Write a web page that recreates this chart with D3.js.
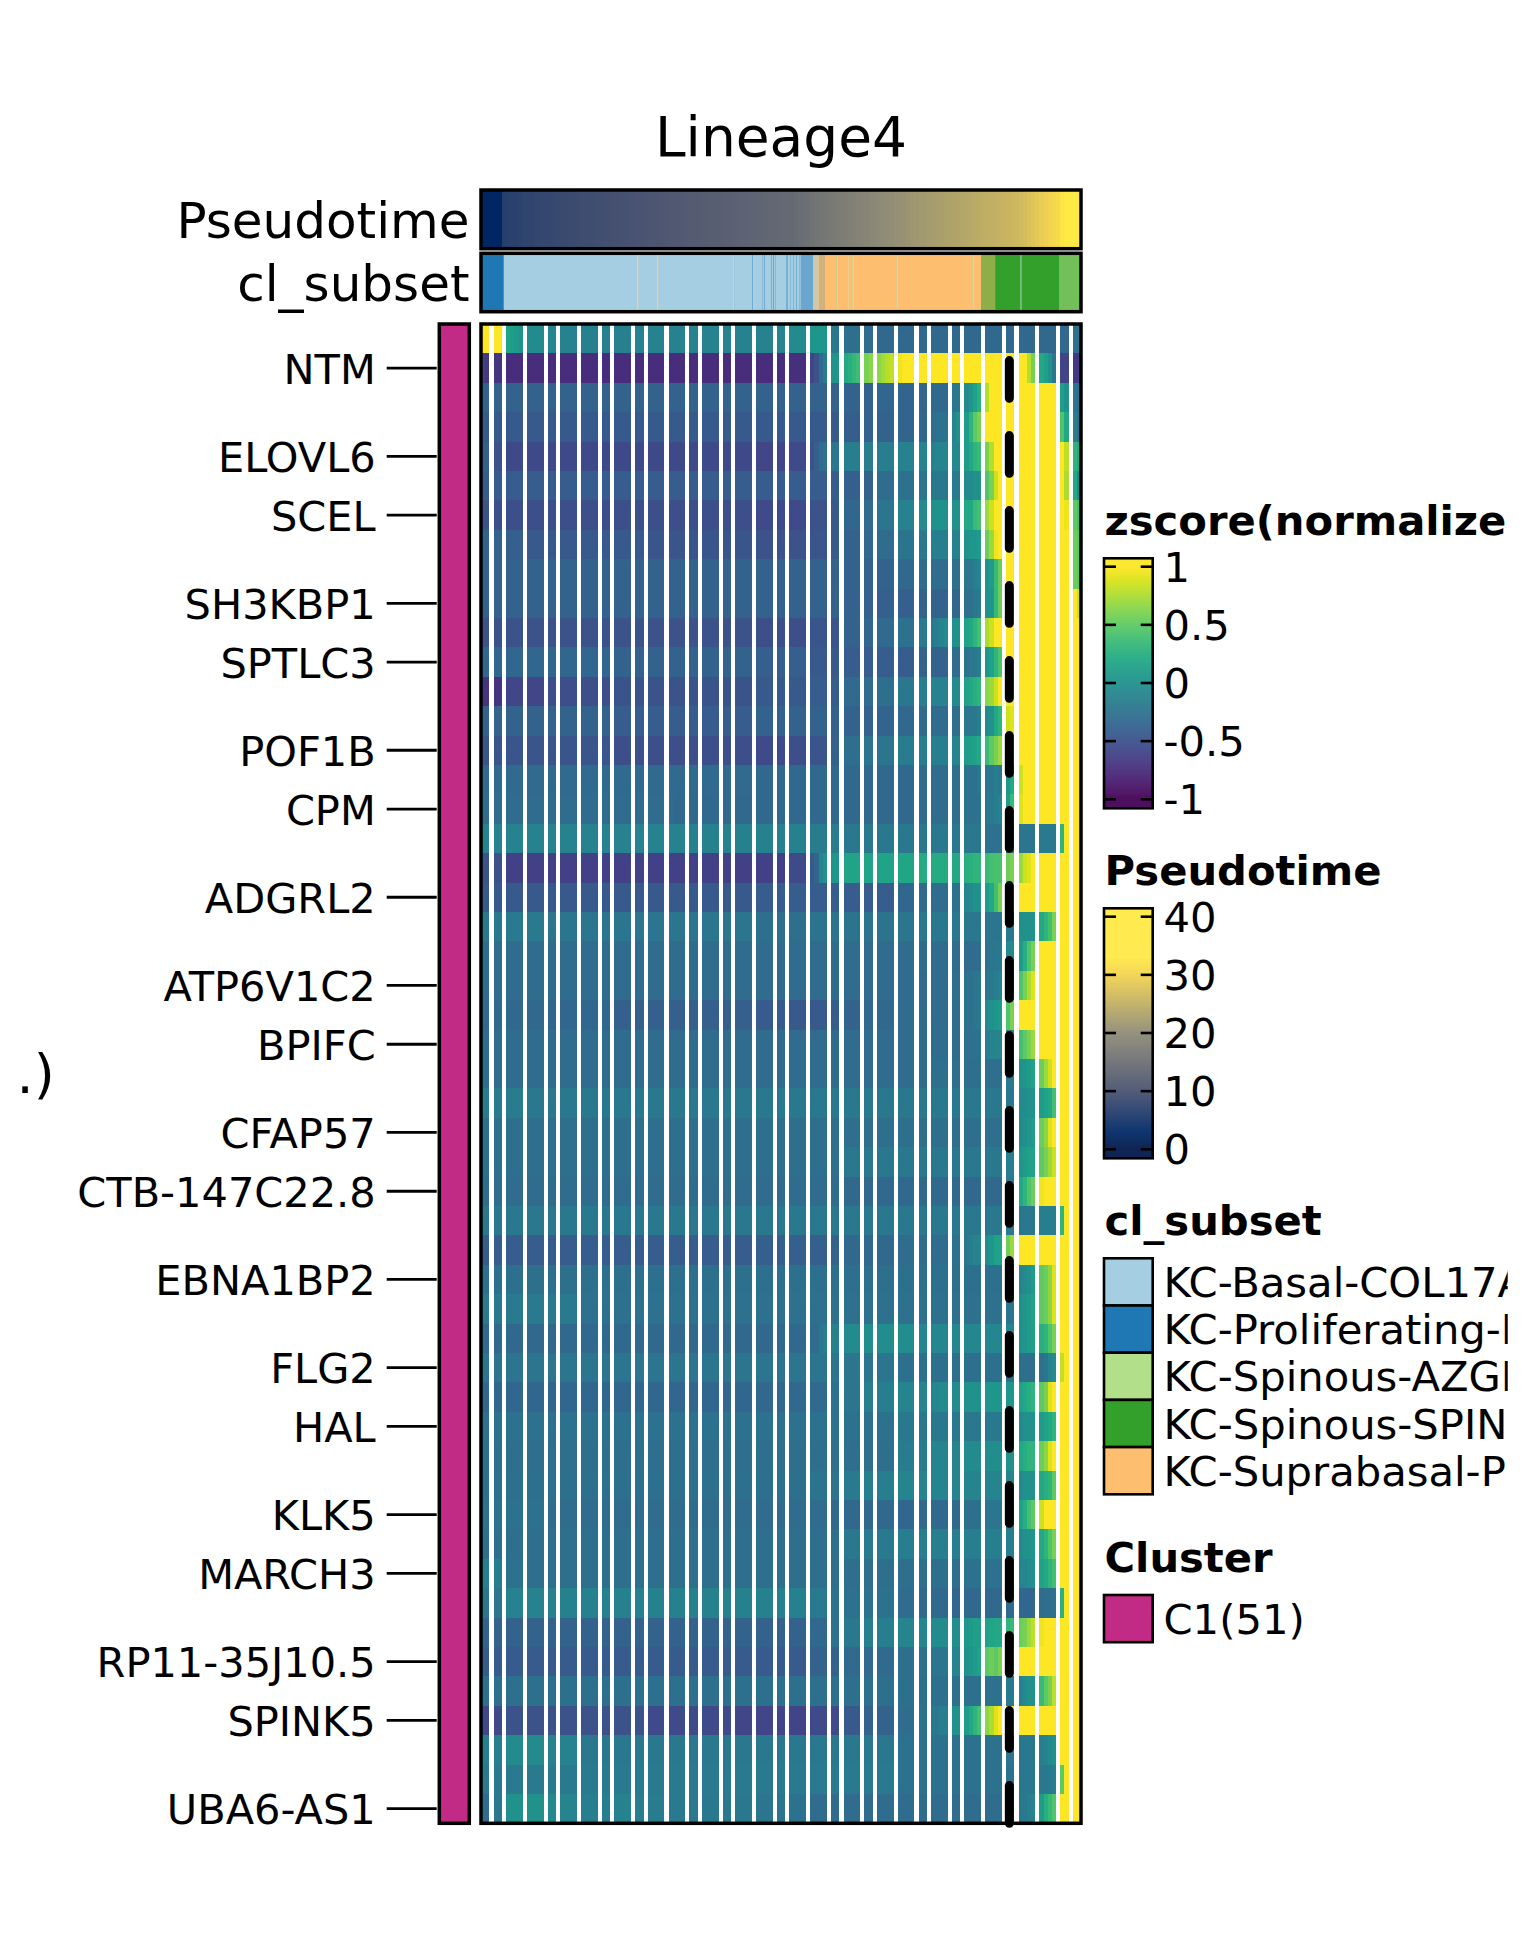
<!DOCTYPE html>
<html>
<head>
<meta charset="utf-8">
<script src="https://d3js.org/d3.v7.min.js"></script>
<style>
  html, body { margin: 0; padding: 0; background: #fff; }
  text { font-family: "DejaVu Sans", sans-serif; fill: #000; }
</style>
</head>
<body>
<div id="chart"></div>
<script>
// Gene names shown on the left and the row each one belongs to
var geneNames = ["NTM", "ELOVL6", "SCEL", "SH3KBP1", "SPTLC3", "POF1B", "CPM", "ADGRL2", "ATP6V1C2", "BPIFC",
  "CFAP57", "CTB-147C22.8", "EBNA1BP2", "FLG2", "HAL", "KLK5", "MARCH3", "RP11-35J10.5", "SPINK5", "UBA6-AS1"];
var geneRows = [1, 4, 6, 9, 11, 14, 16, 19, 22, 24, 27, 29, 32, 35, 37, 40, 42, 45, 47, 50];

// Pseudotime bins that are empty (drawn white in every row)
var gapColumns = [2, 5, 10, 15, 18, 23, 28, 31, 36, 39, 44, 49, 52, 57, 60, 65, 70, 73, 78, 83, 86, 91, 94, 99,
  104, 107, 112, 115, 120, 125, 128, 133, 138, 141];
var columnCount = 144;
var markerColumn = 126.8;

// One list per row: last column of a run, z-score of that run, ...
var zscoreRuns = [
  [1,1,4,1,6,.18,7,.12,8,.08,9,.03,14,-.04,17,-.08,22,-.12,35,-.14,64,-.12,69,-.12,72,-.1,77,-.05,82,.05,85,-.2,90,-.27,93,-.3,140,-.33,143,-.25],
  [0,-.62,1,-.68,4,-.7,72,-.75,77,-.72,79,-.6,80,-.5,81,-.32,82,-.18,85,.03,87,.2,88,.25,89,.32,90,.38,92,.6,93,.65,95,.65,96,.72,97,.78,98,.82,100,.95,130,1,131,.78,132,.58,134,.2,135,.12,136,0,137,-.2,140,-.6,143,-.68],
  [94,-.38,98,-.35,106,-.36,111,-.33,114,-.2,116,-.05,117,.05,118,.15,119,.28,121,.78,137,1,139,.12,140,.02,142,-.22,143,-.3],
  [86,-.44,91,-.41,98,-.37,103,-.36,106,-.34,108,-.3,111,-.25,113,-.1,114,0,116,.1,117,.3,118,.5,119,.6,137,1,139,.45,140,.2,142,-.15,143,-.28],
  [1,-.4,4,-.5,64,-.56,72,-.58,77,-.55,79,-.5,80,-.4,81,-.3,82,-.25,85,-.22,98,-.16,103,-.12,106,-.1,108,-.14,111,-.1,114,-.06,116,.1,117,.2,118,.3,119,.35,121,.6,122,.78,139,1,140,.8,142,.3,143,.2],
  [85,-.42,90,-.4,93,-.37,98,-.3,103,-.26,106,-.22,111,-.2,114,-.18,117,-.05,119,0,121,.45,122,.6,123,.85,139,1,140,.75,142,.2,143,-.05],
  [1,-.5,64,-.52,77,-.55,82,-.5,85,-.45,90,-.35,93,-.3,98,-.22,103,-.12,106,-.05,114,0,117,.2,118,.35,119,.4,121,.7,122,.85,139,1,140,.95,142,.5,143,.4],
  [4,-.37,9,-.4,38,-.45,64,-.47,77,-.5,82,-.48,85,-.45,90,-.37,93,-.33,98,-.3,103,-.23,106,-.2,111,-.15,114,-.12,116,0,118,.05,119,.1,121,.55,122,.7,123,.95,140,1,142,.55,143,.5],
  [64,-.38,82,-.37,93,-.38,98,-.37,103,-.33,111,-.3,114,-.28,116,-.22,117,-.2,118,-.15,119,-.1,121,0,122,.1,123,.35,124,.55,140,1,142,.55,143,.5],
  [85,-.37,93,-.39,103,-.4,106,-.38,111,-.38,114,-.35,116,-.28,117,-.25,118,-.2,119,-.18,121,0,122,.05,123,.35,124,.55,142,1,143,.85],
  [64,-.5,77,-.52,85,-.47,90,-.38,93,-.35,98,-.32,103,-.26,108,-.18,109,-.15,110,-.1,111,-.05,114,0,116,.15,117,.2,118,.3,119,.4,121,.75,122,.85,143,1],
  [30,-.35,64,-.38,77,-.4,85,-.45,103,-.42,111,-.38,114,-.3,116,-.25,118,-.2,119,-.15,121,.05,122,.15,123,.3,124,.45,143,1],
  [4,-.7,14,-.58,30,-.53,64,-.49,77,-.45,85,-.42,90,-.32,93,-.3,98,-.27,103,-.2,106,-.15,111,-.12,114,-.05,116,.15,117,.2,118,.25,119,.3,121,.65,122,.7,123,.85,143,1],
  [30,-.38,64,-.42,93,-.38,98,-.36,103,-.33,111,-.3,114,-.28,116,-.22,118,-.2,119,-.15,121,-.05,122,0,123,.2,124,.3,126,.85,127,.9,143,1],
  [30,-.48,64,-.52,72,-.55,77,-.52,82,-.47,85,-.38,90,-.28,98,-.22,103,-.17,111,-.15,114,-.1,116,.1,117,.12,118,.15,119,.2,121,.35,122,.5,123,.6,124,.7,143,1],
  [64,-.32,103,-.33,111,-.3,114,-.28,118,-.25,119,-.2,122,-.22,123,-.15,124,-.2,126,.05,127,.2,129,.85,143,1],
  [45,-.3,103,-.33,106,-.32,111,-.3,114,-.28,119,-.25,122,-.2,123,-.15,124,-.12,126,.1,127,.35,129,.9,143,1],
  [48,-.11,77,-.13,85,-.17,119,-.2,127,-.25,132,-.22,137,-.18,139,.3,143,1],
  [4,-.5,72,-.62,77,-.55,79,-.45,80,-.35,81,-.1,82,0,85,.05,98,.16,103,.18,111,.22,114,.2,116,.25,117,.28,119,.3,121,.35,122,.4,124,.42,126,.55,127,.6,129,.7,130,.85,131,.9,143,1],
  [64,-.45,98,-.42,103,-.34,111,-.3,114,-.25,116,-.1,117,-.05,119,0,121,.1,122,.2,123,.4,124,.6,143,1],
  [4,-.2,14,-.18,64,-.22,77,-.28,98,-.24,103,-.22,119,-.2,124,-.22,127,-.2,131,0,132,.02,134,.2,135,.3,136,.4,137,.6,143,1],
  [119,-.3,121,-.25,122,-.22,124,-.2,127,-.05,129,.1,130,.25,131,.45,132,.6,143,1],
  [103,-.3,106,-.32,111,-.3,114,-.28,117,-.25,118,-.22,119,-.2,121,-.22,122,-.2,123,-.15,124,-.12,126,-.1,127,-.05,129,.45,130,.6,131,.75,132,.9,143,1],
  [14,-.33,30,-.35,64,-.4,72,-.43,82,-.45,85,-.42,90,-.37,98,-.33,114,-.3,117,-.25,118,-.22,119,-.2,121,-.05,122,0,123,.05,124,.1,126,.45,127,.6,143,1],
  [103,-.3,114,-.29,116,-.28,119,-.25,121,-.15,122,-.12,124,-.1,127,-.15,129,.4,130,.5,131,.6,132,.7,143,1],
  [106,-.3,124,-.28,127,-.18,129,0,130,.05,131,.1,132,.15,134,.55,135,.7,136,.85,143,1],
  [9,-.17,127,-.2,129,-.05,130,-.02,132,0,134,.1,135,.15,136,.2,137,.4,143,1],
  [124,-.28,127,-.18,129,-.05,130,0,131,.05,132,.1,134,.55,135,.65,136,.9,143,1],
  [85,-.28,98,-.2,124,-.2,127,-.15,129,.05,130,.1,132,.15,134,.5,135,.6,136,.7,137,.85,143,1],
  [85,-.3,124,-.33,127,-.2,129,.2,130,.3,131,.45,132,.55,134,.95,143,1],
  [127,-.2,132,-.2,137,-.15,139,.3,143,1],
  [64,-.42,82,-.4,85,-.38,98,-.33,111,-.3,114,-.25,116,-.2,117,-.15,119,-.1,121,-.02,122,.05,124,.15,126,.55,127,.7,143,1],
  [124,-.27,127,-.25,129,-.1,130,-.05,131,0,132,.1,134,.5,135,.55,136,.65,137,.9,143,1],
  [22,-.18,124,-.26,127,-.22,129,0,130,.05,131,.1,132,.15,134,.5,135,.55,136,.65,137,.9,143,1],
  [78,-.33,80,-.3,81,-.2,82,-.15,85,-.13,90,-.05,103,-.03,124,-.08,127,-.1,129,.02,130,.05,131,.1,132,.12,134,.25,135,.3,136,.45,137,.6,143,1],
  [98,-.22,127,-.27,132,-.28,134,-.25,135,-.22,136,-.1,137,-.05,139,.82,143,1],
  [64,-.35,78,-.33,82,-.32,85,-.25,90,-.22,98,-.15,108,-.1,109,-.08,114,-.05,119,0,127,.05,129,.15,130,.2,131,.25,132,.3,134,.5,135,.6,136,.9,143,1],
  [98,-.25,124,-.2,127,-.15,129,-.05,132,0,134,.1,135,.15,136,.2,137,.3,143,1],
  [98,-.28,106,-.17,114,-.1,119,-.05,124,-.02,127,0,129,.2,130,.25,132,.3,134,.55,135,.65,136,.9,143,1],
  [78,-.27,85,-.24,90,-.18,98,-.15,127,-.1,129,-.05,132,0,134,.2,135,.25,136,.3,137,.5,143,1],
  [14,-.25,82,-.3,98,-.33,103,-.35,114,-.33,119,-.27,127,-.22,129,.15,130,.25,131,.4,132,.5,134,.85,143,1],
  [85,-.28,90,-.2,98,-.18,127,-.15,129,-.05,131,0,132,.05,134,.2,135,.3,136,.45,137,.6,143,1],
  [4,-.15,9,-.25,114,-.28,124,-.25,127,-.18,129,-.1,130,-.08,131,-.05,132,0,134,.15,135,.2,136,.3,137,.4,143,1],
  [4,-.22,14,-.12,77,-.13,82,-.18,98,-.25,103,-.3,111,-.33,114,-.35,127,-.33,132,-.35,134,-.3,136,-.28,137,-.25,139,.28,143,1],
  [78,-.38,82,-.33,85,-.25,90,-.2,98,-.15,103,-.1,106,-.08,111,-.05,114,-.02,116,.05,117,.1,119,.12,121,.15,122,.18,124,.2,126,.3,127,.35,129,.55,130,.6,131,.7,132,.8,134,.95,143,1],
  [78,-.43,85,-.37,98,-.32,103,-.28,106,-.25,111,-.22,114,-.1,116,0,117,.05,118,.1,119,.15,121,.5,122,.55,123,.5,124,.6,126,.95,143,1],
  [119,-.27,124,-.25,127,-.18,129,-.12,130,-.05,131,0,132,.02,134,.35,135,.5,136,.6,137,.8,143,1],
  [4,-.57,38,-.5,60,-.55,72,-.58,77,-.6,85,-.55,90,-.45,98,-.38,103,-.3,106,-.25,109,-.2,111,-.15,114,0,116,.1,117,.2,118,.3,119,.4,121,.65,122,.75,123,.9,143,1],
  [4,-.15,14,-.05,22,-.12,98,-.2,124,-.25,127,-.22,132,-.2,134,-.15,135,-.12,136,-.05,137,0,143,1],
  [98,-.18,127,-.25,132,-.2,135,-.2,136,-.18,137,-.15,139,.5,143,1],
  [1,-.3,4,-.2,14,0,17,-.05,22,-.1,30,-.15,35,-.12,38,-.15,43,-.17,48,-.18,64,-.2,72,-.22,77,-.25,127,-.3,129,-.2,130,-.18,131,-.15,132,-.1,134,.1,135,.25,136,.35,137,.45,143,1]
];

// Pseudotime value of each column of the top bar
var pseudotimeValues = [2.5,2.5,2.5,2.5,2.5,6.5,6.8,7,7,7.2,
  7.4,7.5,7.5,7.7,7.9,8,8,8.2,8.3,8.4,
  8.5,8.6,8.6,8.8,8.9,9,9,9.1,9.2,9.3,
  9.4,9.5,9.5,9.6,9.7,9.8,9.9,10,10,10.2,
  10.3,10.4,10.5,10.6,10.8,10.9,11,11,11.2,11.3,
  11.4,11.5,11.6,11.8,11.9,12,12,12.2,12.3,12.4,
  12.5,12.6,12.8,12.9,13,13,13.2,13.3,13.4,13.5,
  13.6,13.7,13.9,14,14,14.3,14.6,14.9,15.2,15.6,
  16,16.2,16.5,16.7,17,17.2,17.5,17.7,18,18.2,
  18.5,18.7,19,19.2,19.5,19.8,20,20.2,20.4,20.6,
  20.8,21,21.2,21.5,21.7,21.9,22,22.2,22.4,22.6,
  22.8,23,23.2,23.4,23.5,23.7,23.9,24.1,24.3,24.5,
  24.7,24.9,25,25.2,25.4,25.6,25.8,26,26.2,26.5,
  27,27.5,28,28.5,29,29.5,30,30.5,31,32.5,
  34,35,36,37];
var pseudotimeBreaks = [0, 3, 10, 20, 30, 33, 42];
var pseudotimeColors = ["#00194a", "#002a68", "#4a5371", "#8e8b77", "#f3d350", "#ffe945", "#ffe945"];
var pseudotimeTicks = [0, 10, 20, 30, 40];
var zscoreTicks = [-1, -0.5, 0, 0.5, 1];

// cl_subset strip: column where a stretch starts, its class, the class it is
// smeared with and by how much
var subsetLabels = ["KC-Basal-COL17A", "KC-Proliferating-I", "KC-Spinous-AZGP", "KC-Spinous-SPIN", "KC-Suprabasal-P"];
var subsetColors = ["#A6CEE3", "#1F78B4", "#B2DF8A", "#33A02C", "#FDBF6F"];
var subsetStart = [0, 5.28, 5.52, 37.56, 37.9, 42.36, 42.72, 60.6, 60.96, 65.04, 65.4, 67.44, 67.68, 67.92, 68.16, 69.6, 69.84, 70.08, 70.32, 70.56, 70.8, 73.2, 73.68, 74.16, 74.4, 74.88, 75.12, 75.6, 75.84, 76.32, 76.73, 79.68, 80.64, 81.12, 82.56, 85.3, 85.56, 87.96, 88.2, 89.16, 89.4, 99.72, 99.96, 117.96, 118.2, 120, 123.36, 123.6, 129.48, 129.72, 138.72];
var subsetClass = [1, 1, 0, 0, 0, 0, 0, 0, 0, 0, 0, 0, 0, 0, 0, 0, 0, 0, 0, 0, 0, 0, 0, 0, 0, 0, 0, 0, 0, 0, 0, 0, 0, 4, 4, 4, 4, 4, 4, 4, 4, 4, 4, 4, 4, 4, 3, 3, 3, 3, 3];
var subsetMixClass = [1, 0, 0, 4, 0, 4, 0, 1, 0, 1, 0, 1, 0, 1, 0, 1, 0, 1, 0, 1, 0, 1, 0, 1, 0, 1, 0, 1, 0, 1, 1, 4, 4, 1, 4, 3, 4, 3, 4, 3, 4, 3, 4, 3, 4, 3, 4, 3, 0, 3, 2];
var subsetMixAmount = [0, .3, 0, .25, 0, .25, 0, .08, 0, .4, 0, .25, 0, .4, 0, .35, 0, .45, 0, .25, 0, .35, 0, .25, 0, .3, 0, .4, 0, .25, .45, .45, .7, .2, 0, .3, 0, .3, 0, .3, 0, .3, 0, .3, 0, .55, .15, 0, .25, 0, .5];

var clusterLabels = ["C1(51)"];
var clusterColors = ["#C22B85"];

// Layout
var heat = {left: 481, right: 1081, top: 324, bottom: 1823.3};
var border = 3.5;

var svg = d3.select("#chart").append("svg")
  .attr("width", 1530)
  .attr("height", 1941)
  .style("display", "block");

// Scales
var x = d3.scaleLinear().domain([0, columnCount]).range([heat.left, heat.right]);
var y = d3.scaleBand().domain(d3.range(zscoreRuns.length)).range([heat.top, heat.bottom]);
var zColor = d3.scaleSequential(d3.interpolateViridis).domain([-1, 1]).clamp(true);
var ptColor = d3.scaleLinear().domain(pseudotimeBreaks).range(pseudotimeColors).clamp(true);

// Expand the runs of one row into cells
function rowCells(runs, row) {
  var cells = [], c = 0;
  for (var i = 0; i < runs.length; i += 2) {
    for (; c <= runs[i]; c++) {
      if (gapColumns.indexOf(c) < 0) cells.push({row: row, col: c, value: runs[i + 1]});
    }
  }
  return cells;
}

// Heatmap cells
var cells = d3.merge(zscoreRuns.map(rowCells));
svg.append("g").selectAll("rect")
  .data(cells)
  .enter().append("rect")
  .attr("x", function(d) { return x(d.col); })
  .attr("y", function(d) { return y(d.row); })
  .attr("width", x(1) - x(0))
  .attr("height", y.bandwidth())
  .attr("shape-rendering", "crispEdges")
  .style("fill", function(d) { return zColor(d.value); });

// Dashed marker line, it is drawn from the bottom up
svg.append("line")
  .attr("x1", x(markerColumn))
  .attr("x2", x(markerColumn))
  .attr("y1", heat.bottom)
  .attr("y2", heat.top + 2)
  .style("stroke", "#000")
  .style("stroke-width", 9)
  .style("stroke-linecap", "round")
  .style("stroke-dasharray", "37.7 37.3");

function frame(x0, y0, x1, y1) {
  svg.append("rect")
    .attr("x", x0).attr("y", y0)
    .attr("width", x1 - x0).attr("height", y1 - y0)
    .style("fill", "none")
    .style("stroke", "#000")
    .style("stroke-width", border);
}
frame(heat.left, heat.top, heat.right, heat.bottom);

// Pseudotime annotation
var ptBar = {top: 190, bottom: 248.7};
svg.append("g").selectAll("rect")
  .data(pseudotimeValues)
  .enter().append("rect")
  .attr("x", function(d, i) { return x(i); })
  .attr("y", ptBar.top)
  .attr("width", x(1) - x(0) + 1)
  .attr("height", ptBar.bottom - ptBar.top)
  .attr("shape-rendering", "crispEdges")
  .style("fill", function(d) { return ptColor(d); });
frame(heat.left, ptBar.top, heat.right, ptBar.bottom);

// cl_subset annotation
var subBar = {top: 253.3, bottom: 311.7};
svg.append("g").selectAll("rect")
  .data(subsetStart)
  .enter().append("rect")
  .attr("x", function(d) { return x(d); })
  .attr("y", subBar.top)
  .attr("width", function(d, i) {
    var next = i + 1 < subsetStart.length ? subsetStart[i + 1] : columnCount;
    return x(next) - x(d);
  })
  .attr("height", subBar.bottom - subBar.top)
  .style("fill", function(d, i) {
    return d3.interpolateRgb(subsetColors[subsetClass[i]], subsetColors[subsetMixClass[i]])(subsetMixAmount[i]);
  });
frame(heat.left, subBar.top, heat.right, subBar.bottom);

// Annotation names
svg.append("text").text("Pseudotime")
  .attr("x", 469.5).attr("y", (ptBar.top + ptBar.bottom) / 2 + 0.5).attr("dy", "0.36em")
  .attr("text-anchor", "end").style("font-size", "50px");
svg.append("text").text("cl_subset")
  .attr("x", 469.5).attr("y", (subBar.top + subBar.bottom) / 2 + 0.5).attr("dy", "0.36em")
  .attr("text-anchor", "end").style("font-size", "50px");

// Title and the stray end of the cut off axis title
svg.append("text").text("Lineage4")
  .attr("x", (heat.left + heat.right) / 2).attr("y", 155.5)
  .attr("text-anchor", "middle").style("font-size", "55px");
svg.append("text").text(".)")
  .attr("x", 16.5).attr("y", 1093)
  .style("font-size", "54px");

// Cluster bar and gene axis
var clusterBar = {left: 439.3, right: 469.3};
svg.append("rect")
  .attr("x", clusterBar.left).attr("y", heat.top)
  .attr("width", clusterBar.right - clusterBar.left).attr("height", heat.bottom - heat.top)
  .style("fill", clusterColors[0]);
frame(clusterBar.left, heat.top, clusterBar.right, heat.bottom);

var geneAxis = d3.axisLeft(y)
  .tickValues(geneRows)
  .tickFormat(function(d, i) { return geneNames[i]; })
  .tickSize(50)
  .tickPadding(11);
var axisG = svg.append("g")
  .attr("transform", "translate(436.7,0)")
  .call(geneAxis);
axisG.select(".domain").remove();
axisG.selectAll("line").style("stroke", "#000").style("stroke-width", 2.8);
axisG.selectAll("text")
  .attr("dy", "0.36em")
  .attr("y", 0.5)
  .style("font-family", '"DejaVu Sans", sans-serif')
  .style("font-size", "41.5px")
  .style("fill", "#000");

// Legends
var legend = {left: 1104, right: 1152.7, text: 1163.5, clip: 1507.7};
var legendG = svg.append("g").attr("clip-path", "url(#legendClip)");
svg.append("clipPath").attr("id", "legendClip")
  .append("rect").attr("x", 1090).attr("y", 0).attr("width", legend.clip - 1090).attr("height", 1941);

function legendTitle(name, baseline) {
  legendG.append("text").text(name)
    .attr("x", 1104.5).attr("y", baseline)
    .style("font-size", "41.7px")
    .style("font-weight", "bold");
}

function colorBar(top, bottom, scale, color, ticks) {
  var v0 = scale.invert(bottom), v1 = scale.invert(top);
  var steps = d3.range(0, 250);
  legendG.append("g").selectAll("rect")
    .data(steps)
    .enter().append("rect")
    .attr("x", legend.left)
    .attr("y", function(d) { return top + d * (bottom - top) / 250; })
    .attr("width", legend.right - legend.left)
    .attr("height", (bottom - top) / 250 + 0.5)
    .style("fill", function(d) { return color(v1 + (v0 - v1) * (d + 0.5) / 250); });
  ticks.forEach(function(t) {
    [[legend.left, legend.left + 12], [legend.right - 12, legend.right]].forEach(function(s) {
      legendG.append("line")
        .attr("x1", s[0]).attr("x2", s[1])
        .attr("y1", scale(t)).attr("y2", scale(t))
        .style("stroke", "#000").style("stroke-width", 2.6);
    });
    legendG.append("text").text(t)
      .attr("x", legend.text).attr("y", scale(t)).attr("dy", "0.36em")
      .style("font-size", "41.7px");
  });
  legendG.append("rect")
    .attr("x", legend.left).attr("y", top)
    .attr("width", legend.right - legend.left).attr("height", bottom - top)
    .style("fill", "none").style("stroke", "#000").style("stroke-width", 2.6);
}

function swatches(top, labels, colors) {
  var band = d3.scaleBand().domain(d3.range(labels.length)).range([top, top + 47.2 * labels.length]);
  labels.forEach(function(label, i) {
    legendG.append("rect")
      .attr("x", legend.left).attr("y", band(i))
      .attr("width", legend.right - legend.left).attr("height", band.bandwidth())
      .style("fill", colors[i]).style("stroke", "#000").style("stroke-width", 2.6);
    legendG.append("text").text(label)
      .attr("x", legend.text).attr("y", band(i) + band.bandwidth() / 2).attr("dy", "0.36em")
      .style("font-size", "41.7px");
  });
}

legendTitle("zscore(normalize", 535);
colorBar(558.3, 808.3, d3.scaleLinear().domain([-1, 1]).range([799.3, 566.7]), zColor, zscoreTicks);

legendTitle("Pseudotime", 884.5);
colorBar(908.3, 1158.3, d3.scaleLinear().domain([0, 40]).range([1149.3, 916.7]), ptColor, pseudotimeTicks);

legendTitle("cl_subset", 1235);
swatches(1258.3, subsetLabels, subsetColors);

legendTitle("Cluster", 1571.7);
swatches(1595, clusterLabels, clusterColors);
</script>
</body>
</html>
